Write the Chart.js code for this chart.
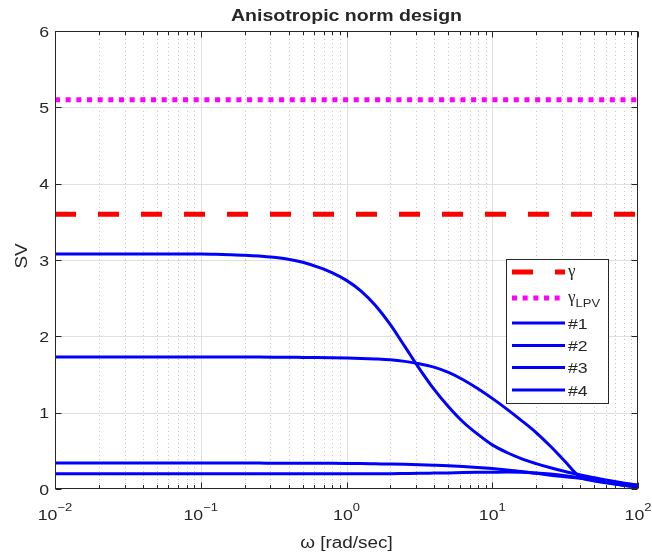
<!DOCTYPE html>
<html>
<head>
<meta charset="utf-8">
<script src="https://cdn.jsdelivr.net/npm/chart.js@4.4.0/dist/chart.umd.min.js"></script>
<style>
html,body{margin:0;padding:0;background:#ffffff;}
#wrap{width:652px;height:556px;position:relative;}
</style>
</head>
<body>
<div id="wrap"><canvas id="c" width="652" height="556"></canvas></div>
<script>
// ---------- data ----------
const omega = [0.01, 0.02, 0.05,
  0.1, 0.126, 0.158, 0.2, 0.251, 0.316, 0.398, 0.501, 0.631, 0.794,
  1, 1.26, 1.58, 2, 2.51, 3.16, 3.98, 5.01, 6.31, 7.94,
  10, 12.6, 15.8, 20, 25.1, 31.6, 39.8, 50.1, 63.1, 79.4, 100];
const sv1 = [3.08, 3.08, 3.079,
  3.078, 3.075, 3.070, 3.063, 3.052, 3.035, 3.010, 2.970, 2.910, 2.835,
  2.733, 2.593, 2.403, 2.153, 1.868, 1.578, 1.308, 1.078, 0.878, 0.718,
  0.578, 0.478, 0.398, 0.333, 0.278, 0.230, 0.187, 0.147, 0.112, 0.080, 0.050];
const sv2 = [1.73, 1.73, 1.73,
  1.730, 1.730, 1.729, 1.729, 1.728, 1.727, 1.726, 1.724, 1.722, 1.719,
  1.715, 1.710, 1.703, 1.692, 1.672, 1.642, 1.597, 1.527, 1.432, 1.317,
  1.187, 1.047, 0.900, 0.740, 0.560, 0.360, 0.160, 0.105, 0.075, 0.050, 0.030];
const sv3 = [0.34, 0.34, 0.34,
  0.34, 0.34, 0.34, 0.339, 0.339, 0.338, 0.338, 0.337, 0.336, 0.336,
  0.335, 0.333, 0.33, 0.327, 0.323, 0.318, 0.312, 0.305, 0.295, 0.283,
  0.268, 0.25, 0.23, 0.205, 0.18, 0.16, 0.14, 0.115, 0.09, 0.07, 0.05];
const sv4 = [0.20, 0.20, 0.20,
  0.20, 0.20, 0.20, 0.20, 0.20, 0.20, 0.20, 0.20, 0.20, 0.20,
  0.20, 0.20, 0.20, 0.201, 0.203, 0.205, 0.208, 0.211, 0.215, 0.218,
  0.22, 0.222, 0.22, 0.21, 0.195, 0.175, 0.15, 0.12, 0.08, 0.05, 0.02];
const gammaValue    = 3.60;
const gammaLPVValue = 5.10;
const seriesNames   = ['#1', '#2', '#3', '#4'];
const xDecades      = [0.01, 0.1, 1, 10, 100];
const xTickExponents = ['\u22122', '\u22121', '0', '1', '2'];
const yMin = 0, yMax = 6, yStep = 1;
const titleText  = 'Anisotropic norm design';
const xLabelText = '\u03C9 [rad/sec]';
const yLabelText = 'SV';

// ---------- helpers ----------
const FONT = '"Liberation Sans", Arial, Helvetica, sans-serif';
const SERIF = '"Liberation Serif", "Times New Roman", serif';
const AXIS_COLOR = '#262626';
const TXT_SX = 1.18;

function txt(ctx, text, x, y, px, weight, align, sx, family) {
  ctx.save();
  ctx.font = `${weight} ${px}px ${family || FONT}`;
  ctx.textBaseline = 'alphabetic';
  ctx.textAlign = 'left';
  const w = ctx.measureText(text).width * sx;
  const left = align === 'center' ? x - w / 2 : (align === 'right' ? x - w : x);
  ctx.translate(left, y);
  ctx.scale(sx, 1);
  ctx.fillStyle = AXIS_COLOR;
  ctx.fillText(text, 0, 0);
  ctx.restore();
  return w;
}
function measure(ctx, text, px, weight, sx) {
  ctx.save();
  ctx.font = `${weight} ${px}px ${FONT}`;
  const w = ctx.measureText(text).width * sx;
  ctx.restore();
  return w;
}
const toXY = arr => omega.map((w, i) => ({x: w, y: arr[i]}));
const flat = v => [{x: omega[0], y: v}, {x: omega[omega.length - 1], y: v}];

// ---------- plugins ----------
const gridPlugin = {
  id: 'matlabGrid',
  beforeDatasetsDraw(chart) {
    const {ctx, chartArea: a, scales: {x, y}} = chart;
    ctx.save();
    ctx.beginPath(); ctx.rect(a.left, a.top, a.right - a.left, a.bottom - a.top); ctx.clip();
    ctx.strokeStyle = '#c4c4c4'; ctx.lineWidth = 1; ctx.setLineDash([1, 3]);
    for (let d = 0; d < xDecades.length - 1; d++) {
      for (let k = 2; k <= 9; k++) {
        const px = Math.round(x.getPixelForValue(k * xDecades[d])) + 0.5;
        ctx.beginPath(); ctx.moveTo(px, a.top); ctx.lineTo(px, a.bottom); ctx.stroke();
      }
    }
    ctx.setLineDash([]); ctx.strokeStyle = '#e0e0e0';
    xDecades.forEach(v => {
      const px = Math.round(x.getPixelForValue(v)) + 0.5;
      ctx.beginPath(); ctx.moveTo(px, a.top); ctx.lineTo(px, a.bottom); ctx.stroke();
    });
    y.ticks.forEach(t => {
      const py = Math.round(y.getPixelForValue(t.value)) + 0.5;
      ctx.beginPath(); ctx.moveTo(a.left, py); ctx.lineTo(a.right, py); ctx.stroke();
    });
    ctx.restore();
  },
  afterDatasetsDraw(chart) {
    const {ctx, chartArea: a, scales: {x, y}} = chart;
    ctx.save();
    ctx.strokeStyle = AXIS_COLOR; ctx.lineWidth = 1;
    const L = Math.round(a.left) + 0.5, R = Math.round(a.right) - 0.5;
    const T = Math.round(a.top) + 0.5, B = Math.round(a.bottom) - 0.5;
    ctx.strokeRect(L, T, R - L, B - T);
    y.ticks.forEach(t => {
      const py = Math.round(y.getPixelForValue(t.value)) + 0.5;
      ctx.beginPath(); ctx.moveTo(L, py); ctx.lineTo(L + 6, py); ctx.stroke();
      ctx.beginPath(); ctx.moveTo(R, py); ctx.lineTo(R - 6, py); ctx.stroke();
    });
    for (let d = 0; d < xDecades.length; d++) {
      const px = Math.round(x.getPixelForValue(xDecades[d])) + 0.5;
      ctx.beginPath(); ctx.moveTo(px, B); ctx.lineTo(px, B - 6); ctx.stroke();
      ctx.beginPath(); ctx.moveTo(px, T); ctx.lineTo(px, T + 6); ctx.stroke();
      if (d < xDecades.length - 1) {
        for (let k = 2; k <= 9; k++) {
          const mx = Math.round(x.getPixelForValue(k * xDecades[d])) + 0.5;
          ctx.beginPath(); ctx.moveTo(mx, B); ctx.lineTo(mx, B - 3.5); ctx.stroke();
          ctx.beginPath(); ctx.moveTo(mx, T); ctx.lineTo(mx, T + 3.5); ctx.stroke();
        }
      }
    }
    ctx.restore();
  },
  afterDraw(chart) {
    const {ctx, chartArea: a, scales: {x, y}} = chart;
    const cx = (a.left + a.right) / 2;
    txt(ctx, titleText, cx, 21, 16, 'bold', 'center', 1.22);
    y.ticks.forEach(t => {
      const py = y.getPixelForValue(t.value);
      txt(ctx, String(t.value), a.left - 6, py + 5.5, 15, 'normal', 'right', TXT_SX);
    });
    xDecades.forEach((v, i) => {
      const px = x.getPixelForValue(v);
      const w1 = measure(ctx, '10', 15, 'normal', TXT_SX);
      const w2 = measure(ctx, xTickExponents[i], 11, 'normal', TXT_SX);
      const start = px - (w1 + w2) / 2;
      txt(ctx, '10', start, 520, 15, 'normal', 'left', TXT_SX);
      txt(ctx, xTickExponents[i], start + w1, 511, 11, 'normal', 'left', TXT_SX);
    });
    txt(ctx, xLabelText, cx, 548, 16, 'normal', 'center', TXT_SX);
    ctx.save();
    ctx.translate(27, (a.top + a.bottom) / 2 - 4);
    ctx.rotate(-Math.PI / 2);
    txt(ctx, yLabelText, 0, 0, 16, 'normal', 'center', TXT_SX);
    ctx.restore();
    // legend
    const lx = a.right - 132, ly = a.top + 228, lw = 102, lh = 144;
    ctx.save();
    ctx.fillStyle = '#ffffff'; ctx.fillRect(lx, ly, lw, lh);
    ctx.strokeStyle = AXIS_COLOR; ctx.lineWidth = 1;
    ctx.strokeRect(Math.round(lx) + 0.5, Math.round(ly) + 0.5, lw, lh);
    const rows = [13, 39, 64, 86.5, 108.5, 131];
    const sx0 = lx + 6, sx1 = lx + 59, tx = lx + 62;
    chart.data.datasets.forEach((ds, i) => {
      const ry = ly + rows[i];
      ctx.save();
      ctx.strokeStyle = ds.borderColor; ctx.lineWidth = ds.borderWidth;
      ctx.setLineDash(ds.borderDash || []); ctx.lineCap = 'butt';
      ctx.beginPath(); ctx.moveTo(sx0, ry); ctx.lineTo(sx1, ry); ctx.stroke();
      ctx.restore();
      if (i === 0) {
        txt(ctx, '\u03B3', tx, ry + 4, 17, 'normal', 'left', 1.0, SERIF);
      } else if (i === 1) {
        const wg = txt(ctx, '\u03B3', tx, ry + 4, 17, 'normal', 'left', 1.0, SERIF);
        txt(ctx, 'LPV', tx + wg, ry + 9, 11, 'normal', 'left', TXT_SX);
      } else {
        txt(ctx, ds.label, tx, ry + 5.5, 15, 'normal', 'left', TXT_SX);
      }
    });
    ctx.restore();
  }
};

// ---------- chart ----------
const blue = '#0000ff';
const lineDefaults = {pointRadius: 0, pointHoverRadius: 0, fill: false, cubicInterpolationMode: 'monotone', borderJoinStyle: 'round'};
new Chart(document.getElementById('c'), {
  type: 'line',
  data: {
    datasets: [
      Object.assign({label: '\u03B3', data: flat(gammaValue), borderColor: '#ff0000', borderWidth: 5, borderDash: [21, 22]}, lineDefaults),
      Object.assign({label: '\u03B3LPV', data: flat(gammaLPVValue), borderColor: '#ff00ff', borderWidth: 5, borderDash: [5, 5.67]}, lineDefaults),
      Object.assign({label: seriesNames[0], data: toXY(sv1), borderColor: blue, borderWidth: 3}, lineDefaults),
      Object.assign({label: seriesNames[1], data: toXY(sv2), borderColor: blue, borderWidth: 3}, lineDefaults),
      Object.assign({label: seriesNames[2], data: toXY(sv3), borderColor: blue, borderWidth: 3}, lineDefaults),
      Object.assign({label: seriesNames[3], data: toXY(sv4), borderColor: blue, borderWidth: 3}, lineDefaults)
    ]
  },
  options: {
    responsive: false,
    animation: false,
    devicePixelRatio: 1,
    layout: {padding: {top: 31, right: 14, left: 0, bottom: 0}},
    plugins: {legend: {display: false}, tooltip: {enabled: false}, title: {display: false}},
    scales: {
      x: {
        type: 'logarithmic', min: xDecades[0], max: xDecades[xDecades.length - 1],
        ticks: {display: false}, grid: {display: false, drawTicks: false}, border: {display: false},
        afterFit: s => { s.height = 67; }
      },
      y: {
        type: 'linear', min: yMin, max: yMax,
        ticks: {display: false, stepSize: yStep}, grid: {display: false, drawTicks: false}, border: {display: false},
        afterFit: s => { s.width = 55; }
      }
    }
  },
  plugins: [gridPlugin]
});
</script>
</body>
</html>
